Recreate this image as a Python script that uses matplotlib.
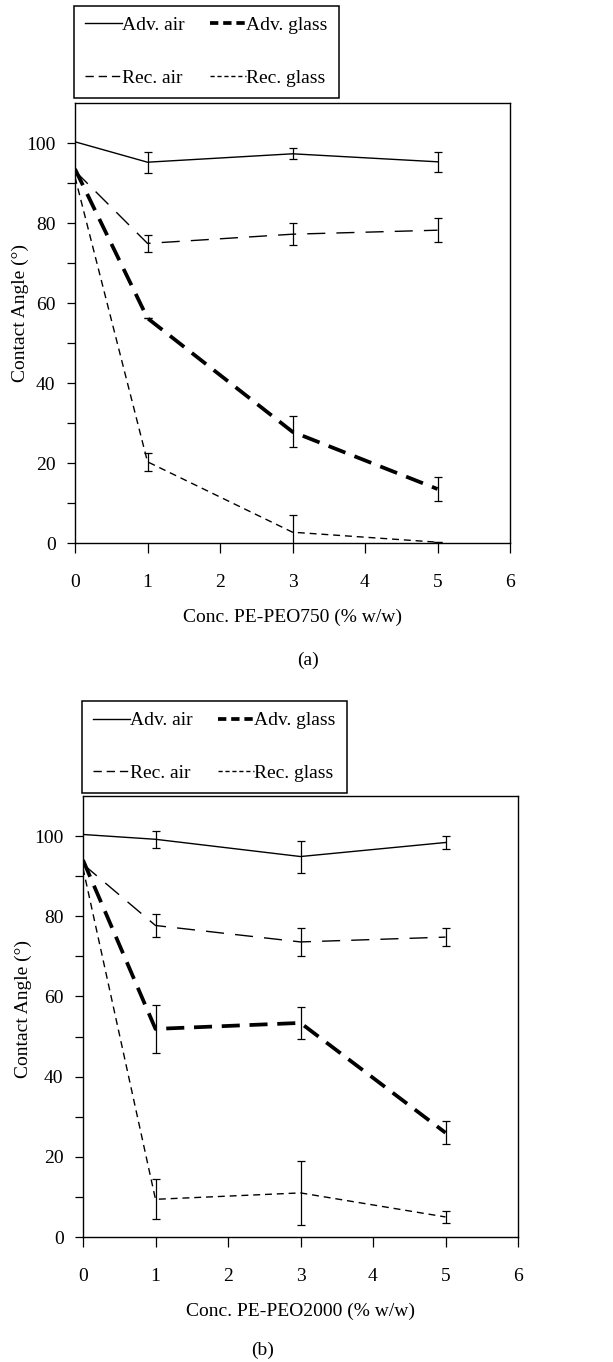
import matplotlib
matplotlib.use('Agg')
import matplotlib.pyplot as plt
from matplotlib.lines import Line2D

plt.rcParams['font.family'] = ['Liberation Serif', 'DejaVu Serif']
plt.rcParams['font.size'] = 14
plt.rcParams['lines.scale_dashes'] = False

# Concentrations (% w/w)
conc = [0, 1, 3, 5]

# (a) PE-PEO750
adv_air_a = [100.3, 95.2, 97.3, 95.3]
adv_air_a_err = [0, 2.6, 1.4, 2.5]
rec_air_a = [93.0, 74.9, 77.2, 78.2]
rec_air_a_err = [0, 2.2, 2.7, 3.0]
adv_glass_a = [93.5, 56.2, 27.8, 13.5]
adv_glass_a_err = [0, 0, 3.9, 3.0]
rec_glass_a = [91.5, 20.3, 2.7, 0.2]
rec_glass_a_err = [0, 2.2, 4.2, 0]

# (b) PE-PEO2000
adv_air_b = [100.4, 99.2, 94.9, 98.4]
adv_air_b_err = [0, 2.1, 4.0, 1.5]
rec_air_b = [93.0, 77.7, 73.6, 74.8]
rec_air_b_err = [0, 2.8, 3.4, 2.2]
adv_glass_b = [94.0, 51.9, 53.4, 26.0]
adv_glass_b_err = [0, 6.0, 4.0, 2.9]
rec_glass_b = [92.0, 9.4, 11.0, 5.0]
rec_glass_b_err = [0, 5.0, 8.0, 1.5]

# line styles in the plot, and shorter dashes for the legend keys
styles = {
    'Adv. air': dict(lw=1.0, ls='-'),
    'Adv. glass': dict(lw=2.7, dashes=(13, 7)),
    'Rec. air': dict(lw=1.0, dashes=(13, 8)),
    'Rec. glass': dict(lw=1.0, dashes=(5, 3.5)),
}
leg_styles = {
    'Adv. air': dict(lw=1.0, ls='-'),
    'Adv. glass': dict(lw=2.7, dashes=(6, 3.5)),
    'Rec. air': dict(lw=1.0, dashes=(6, 3.5)),
    'Rec. glass': dict(lw=1.0, dashes=(3, 2)),
}

fig = plt.figure(figsize=(6.13, 13.62), dpi=100)


def panel(rect, series, xlabel, tag, tag_xy, leg_xy, ylab_xy):
    ax = fig.add_axes(rect)
    for name, (y, err) in series.items():
        ax.plot(conc, y, color='k', label=name, **styles[name])
        ax.errorbar(conc[1:], y[1:], yerr=err[1:], fmt='none', ecolor='k',
                    elinewidth=0.9, capsize=3, capthick=0.9)
    ax.set_xlim(0, 6)
    ax.set_ylim(0, 110)
    ax.set_xticks(range(7))
    ax.set_yticks(range(0, 101, 20))
    ax.set_yticks(range(10, 100, 20), minor=True)
    ax.tick_params(axis='y', which='both', direction='out', length=6, width=0.9, pad=8)
    ax.tick_params(axis='x', direction='out', length=7, width=0.9, pad=15)
    for s in ax.spines.values():
        s.set_linewidth(1.0)
    ax.set_xlabel(xlabel, labelpad=13)
    ax.set_ylabel('Contact Angle (°)')
    ax.yaxis.set_label_coords(*ylab_xy)
    order = ['Adv. air', 'Rec. air', 'Adv. glass', 'Rec. glass']
    keys = [Line2D([], [], color='k', **leg_styles[n]) for n in order]
    leg = ax.legend(keys, order, ncol=2, loc='upper left',
                    bbox_to_anchor=leg_xy, bbox_transform=fig.transFigure,
                    borderaxespad=0, fancybox=False, framealpha=1, edgecolor='k',
                    handlelength=1.9, handletextpad=0.0, columnspacing=1.3,
                    labelspacing=1.8, borderpad=0.55, fontsize=14)
    leg.get_frame().set_linewidth(1.1)
    fig.text(tag_xy[0], tag_xy[1], tag, ha='center', va='center', fontsize=14)
    return ax


panel([75 / 613, 1 - 543 / 1362, 435 / 613, 440 / 1362],
      {'Adv. air': (adv_air_a, adv_air_a_err),
       'Adv. glass': (adv_glass_a, adv_glass_a_err),
       'Rec. air': (rec_air_a, rec_air_a_err),
       'Rec. glass': (rec_glass_a, rec_glass_a_err)},
      'Conc. PE-PEO750 (% w/w)', '(a)', (308 / 613, 1 - 660 / 1362),
      (74 / 613, 1 - 6 / 1362), (-0.105, 0.523))

panel([83 / 613, 1 - 1237 / 1362, 435 / 613, 441 / 1362],
      {'Adv. air': (adv_air_b, adv_air_b_err),
       'Adv. glass': (adv_glass_b, adv_glass_b_err),
       'Rec. air': (rec_air_b, rec_air_b_err),
       'Rec. glass': (rec_glass_b, rec_glass_b_err)},
      'Conc. PE-PEO2000 (% w/w)', '(b)', (263 / 613, 1 - 1350 / 1362),
      (82 / 613, 1 - 701 / 1362), (-0.118, 0.517))

fig.savefig('out.png', dpi=100)
